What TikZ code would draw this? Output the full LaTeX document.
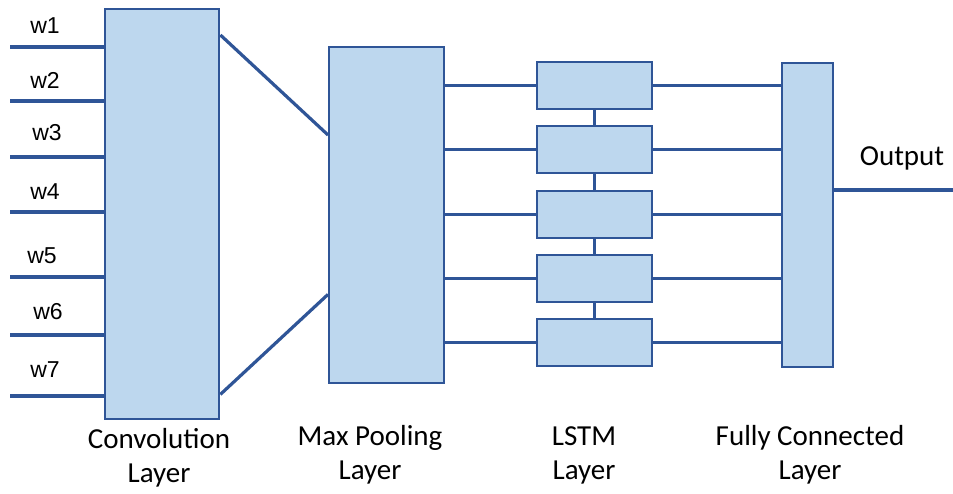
\documentclass[tikz,border=0pt]{standalone}
\usepackage{fontspec}
\setmainfont{Carlito}
\newfontfamily\wfont{Liberation Sans}
\usetikzlibrary{calc}
\definecolor{boxfill}{HTML}{BDD7EE}
\definecolor{boxline}{HTML}{2F5597}
\begin{document}
\begin{tikzpicture}[x=1pt,y=-1pt,
  layerbox/.style={draw=boxline, fill=boxfill, line width=2.4pt, inner sep=0pt, anchor=north west},
  conn/.style={draw=boxline, line width=3.2pt},
  wlab/.style={font=\wfont\fontsize{23}{25}\selectfont, inner sep=0pt},
  caption/.style={font=\fontsize{29}{34}\selectfont, align=center, inner sep=0pt}]
\useasboundingbox (0,0) rectangle (953,494);
% boxes
\node[layerbox, minimum width=114pt, minimum height=410pt] (conv) at (104,8) {};
\node[layerbox, minimum width=115pt, minimum height=336pt] (mp) at (328,46) {};
\node[layerbox, minimum width=115pt, minimum height=47pt] (l1) at (536,61) {};
\node[layerbox, minimum width=115pt, minimum height=47pt] (l2) at (536,125) {};
\node[layerbox, minimum width=115pt, minimum height=47pt] (l3) at (536,190) {};
\node[layerbox, minimum width=115pt, minimum height=47pt] (l4) at (536,254) {};
\node[layerbox, minimum width=115pt, minimum height=47pt] (l5) at (536,318) {};
\node[layerbox, minimum width=51pt, minimum height=304pt] (fc) at (781,62) {};
% inputs
\foreach \i/\y/\lx/\ly in {1/47/45/26, 2/101/45/80, 3/157/47/133, 4/212/45/192, 5/277/42/256, 6/335/48/312, 7/396/45/370}{
  \coordinate (in\i) at (10,\y);
  \draw[conn] (in\i) -- (in\i -| conv.west);
  \node[wlab] (wl\i) at (\lx,\ly) {w\i};
}
% conv -> max pooling
\draw[conn] ($(conv.north east)+(0,27)$) -- ($(mp.north west)+(0,89)$);
\draw[conn] ($(conv.south east)+(0,-26)$) -- ($(mp.south west)+(0,-90)$);
% max pooling -> lstm, lstm -> fc
\foreach \i in {1,...,5}{
  \draw[conn] (mp.east |- l\i.west) -- (l\i.west);
  \draw[conn] (l\i.east) -- (l\i.east -| fc.west);
}
% lstm chain
\draw[conn] (l1.south) -- (l2.north);
\draw[conn] (l2.south) -- (l3.north);
\draw[conn] (l3.south) -- (l4.north);
\draw[conn] (l4.south) -- (l5.north);
% output
\coordinate (outend) at (953,190);
\draw[conn] (fc.east |- outend) -- (outend);
\node[caption] (outlab) at (902,158) {Output};
% captions
\node[caption] (cconv) at (159,458) {Convolution\\Layer};
\node[caption] (cmp) at (370,455) {Max Pooling\\Layer};
\node[caption] (clstm) at (584,455) {LSTM\\Layer};
\node[caption] (cfc) at (810,455) {Fully Connected\\Layer};
\end{tikzpicture}
\end{document}
